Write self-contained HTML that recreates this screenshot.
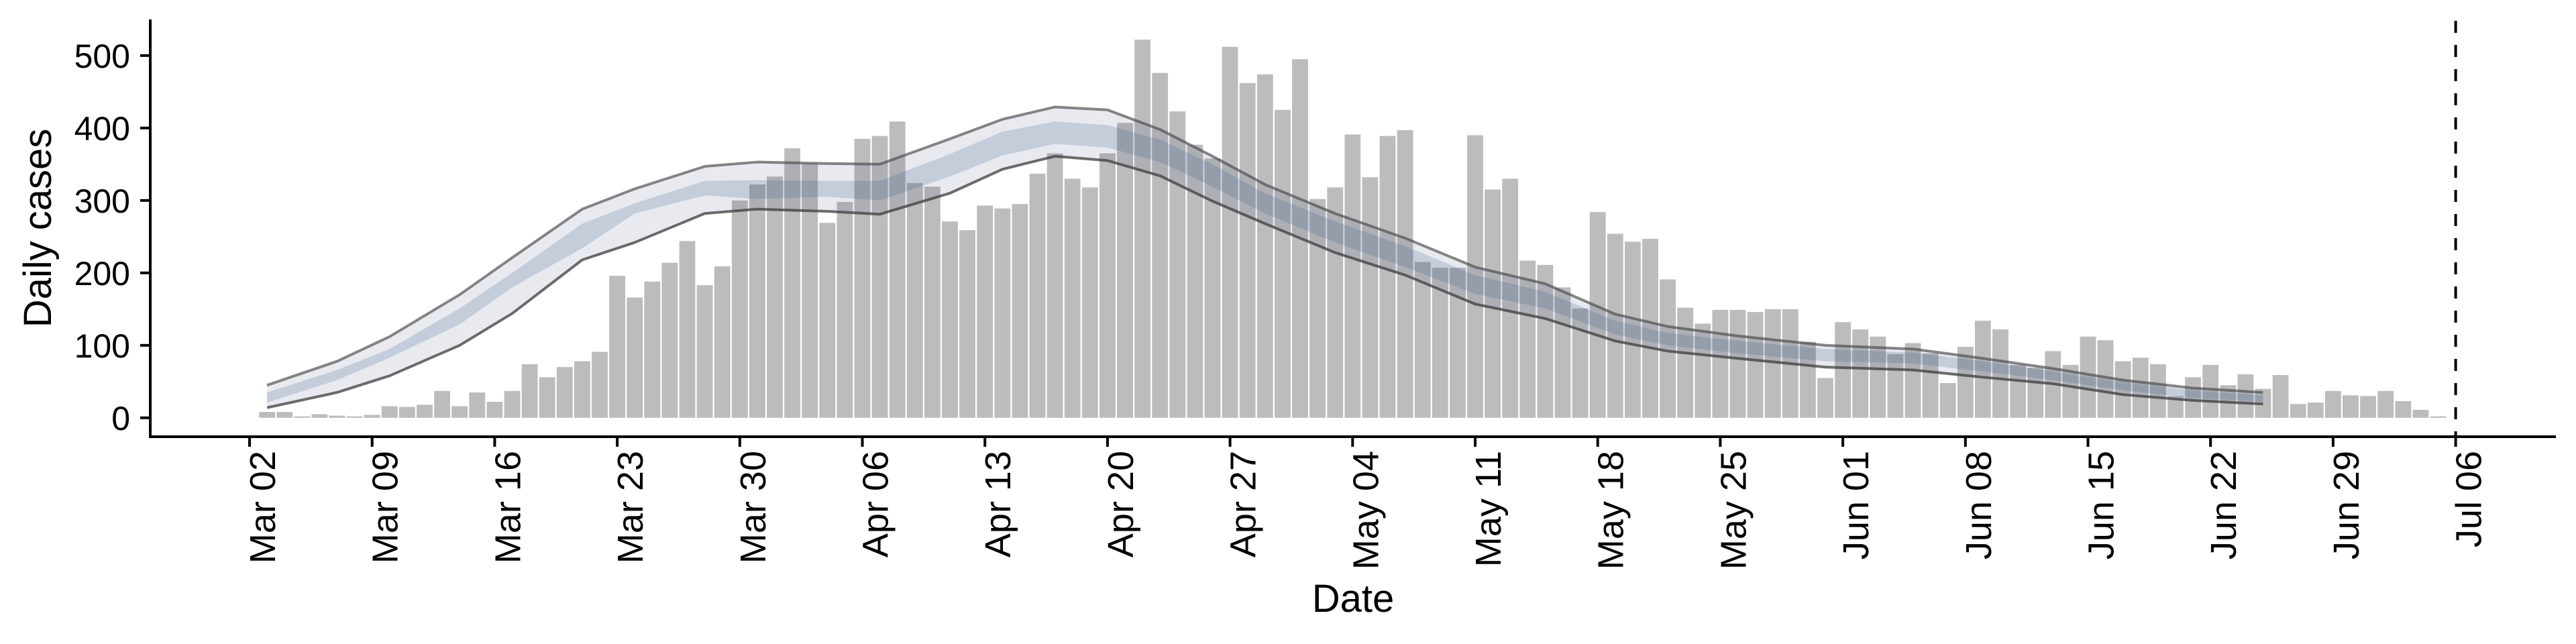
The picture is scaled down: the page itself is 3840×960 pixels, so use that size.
<!DOCTYPE html>
<html><head><meta charset="utf-8"><style>
html,body{margin:0;padding:0;background:#fff;}
svg{display:block;font-family:"Liberation Sans",Arial,sans-serif;}
</style></head><body>
<svg id="chart" width="3840" height="960" viewBox="0 0 3840 960" xmlns="http://www.w3.org/2000/svg">
<g id="bars"></g>
<g id="bands"></g>
<g id="axes"></g>
</svg>
<script>
// day index 1 = Mar 03
const dailyCases = [8,8,2,5,3,2,4,16,15,18,37,16,35,22,37,74,56,70,78,91,196,166,188,214,244,183,209,300,322,333,372,351,269,298,
385,389,409,324,319,271,259,293,289,295,337,365,330,318,365,407,522,476,423,377,358,512,462,474,425,495,302,318,391,332,389,397,215,207,207,
390,315,330,217,211,180,151,284,254,243,247,191,152,130,
149,149,146,150,150,105,55,132,122,112,88,103,89,48,98,134,122,73,69,92,73,112,107,78,83,74,30,56,73,45,60,40,59,19,21,37,31,30,37,23,11,2];
const bandDays   = [1,5,8,12,15,19,22,26,29,33,36,40,43,46,49,52,55,58,62,66,70,74,78,81,85,90,95,99,103,107,111,115];
const outerUpper = [45,78,112,170,221,288,316,347,353,351,350,385,412,429,425,398,361,322,282,248,208,185,143,126,113,100,95,82,68,52,41,35];
const outerLower = [14,35,58,100,144,218,242,282,288,285,281,310,343,361,355,334,299,268,228,197,157,137,106,92,82,70,66,56,47,32,24,19];
const innerUpper = [35,66,95,151,200,268,296,327,328,327,327,364,395,409,404,384,350,310,271,237,197,174,134,117,106,95,90,78,64,49,38,31];
const innerLower = [21,52,83,129,180,234,282,307,302,305,300,333,362,378,373,353,319,282,242,208,171,151,115,100,89,78,75,64,52,38,27,22];
const yTicks = [0,100,200,300,400,500];
const xTickLabels = ["Mar 02","Mar 09","Mar 16","Mar 23","Mar 30","Apr 06","Apr 13","Apr 20","Apr 27","May 04","May 11","May 18","May 25","Jun 01","Jun 08","Jun 15","Jun 22","Jun 29","Jul 06"];
const vlineDay = 126;

const NS="http://www.w3.org/2000/svg";
const X = d => 372 + 26.1*d;
const Y = v => 622.8 - 1.08*v;
function mk(tag, attrs, parent){const e=document.createElementNS(NS,tag);for(const k in attrs)e.setAttribute(k,attrs[k]);parent.appendChild(e);return e;}

const gb=document.getElementById('bars');
dailyCases.forEach((v,i)=>{
  const d=i+1;
  const r=mk('rect',{x:X(d)-11.9,y:Y(v),width:23.8,height:Y(0)-Y(v),fill:'#bcbcbc'},gb);
  
  
});

const gband=document.getElementById('bands');
function areaPath(up,lo){
  let p='M'+bandDays.map((d,i)=>X(d)+','+Y(up[i])).join(' L');
  p+=' L'+bandDays.map((d,i)=>X(d)+','+Y(lo[i])).reverse().join(' L')+' Z';
  return p;
}
function linePath(vals){return 'M'+bandDays.map((d,i)=>X(d)+','+Y(vals[i])).join(' L');}
const ob=mk('path',{d:areaPath(outerUpper,outerLower),fill:'rgba(62,85,132,0.12)'},gband);


const ib=mk('path',{d:areaPath(innerUpper,innerLower),fill:'rgba(62,85,132,0.2)'},gband);


const ul=mk('path',{d:linePath(outerUpper),fill:'none',stroke:'rgba(70,70,70,0.65)','stroke-width':4,'stroke-linejoin':'round'},gband);


const ll=mk('path',{d:linePath(outerLower),fill:'none',stroke:'rgba(60,60,60,0.75)','stroke-width':4,'stroke-linejoin':'round'},gband);



const ga=document.getElementById('axes');
const ya=mk('line',{x1:224,y1:29,x2:224,y2:653,stroke:'#000','stroke-width':4},ga);


const xa=mk('line',{x1:222,y1:651,x2:3810,y2:651,stroke:'#000','stroke-width':4},ga);


yTicks.forEach(v=>{
  const t=mk('line',{x1:209,y1:Y(v),x2:224,y2:Y(v),stroke:'#000','stroke-width':4},ga);
  
  
  const l=mk('text',{x:194,y:Y(v)+18,'text-anchor':'end','font-size':50,fill:'#000'},ga);
  l.textContent=v;
  
  
});
xTickLabels.forEach((s,i)=>{
  const x=X(i*7);
  const t=mk('line',{x1:x,y1:651,x2:x,y2:666,stroke:'#000','stroke-width':4},ga);
  
  
  const l=mk('text',{transform:'translate('+(x+38)+',672) rotate(-90)','text-anchor':'end','font-size':54,fill:'#000'},ga);
  l.textContent=s;
  
  
});
const vl=mk('line',{x1:X(vlineDay),y1:31,x2:X(vlineDay),y2:651,stroke:'#000','stroke-width':4,'stroke-dasharray':'18,18'},ga);


const xt=mk('text',{x:2017,y:912,'text-anchor':'middle','font-size':58,fill:'#000'},ga);
xt.textContent='Date';


const yt=mk('text',{transform:'translate(76,340) rotate(-90)','text-anchor':'middle','font-size':58,fill:'#000'},ga);
yt.textContent='Daily cases';


</script>
</body></html>
